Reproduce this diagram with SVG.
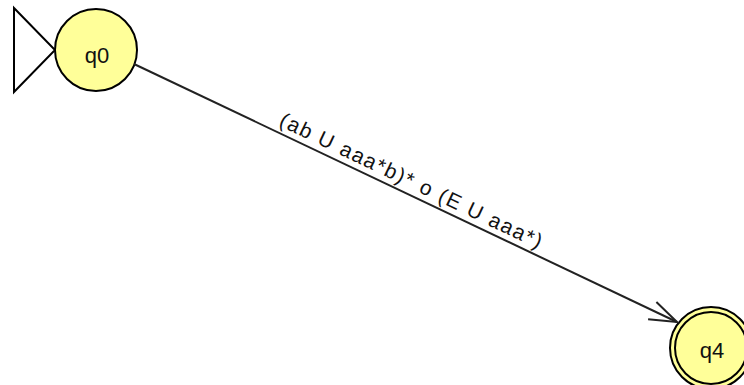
<svg xmlns="http://www.w3.org/2000/svg" width="744" height="385" viewBox="0 0 744 385">
<style>
.state{fill:#ffff99;stroke:#000;stroke-width:2}
.lbl{font-family:"Liberation Sans",Arial,sans-serif;font-size:22px;fill:#111;text-anchor:middle}
.edge{stroke:#222;stroke-width:2;fill:none}
.elbl{font-family:"Liberation Sans",Arial,sans-serif;font-size:21px;fill:#111;text-anchor:middle}
</style>
<rect width="744" height="385" fill="#fff"/>
<g id="q0">
<polygon points="14,8 14,92 55,50" fill="#fff" stroke="#000" stroke-width="2"/>
<circle class="state" cx="96" cy="50" r="41"/>
<text class="lbl" x="97" y="63">q0</text>
</g>
<g id="q4">
<circle class="state" cx="711" cy="348" r="41"/>
<circle class="state" cx="711" cy="348" r="36"/>
<text class="lbl" x="712" y="358">q4</text>
</g>
<g id="connectors">
<line class="edge" x1="134" y1="64" x2="677" y2="322"/>
<polyline class="edge" points="656.4,302 677,322 648.1,319.3"/>
<text class="elbl" transform="translate(408,187) rotate(25.5)" x="0" y="0" textLength="288" lengthAdjust="spacing">(ab U aaa*b)* o (E U aaa*)</text>
</g>
</svg>
